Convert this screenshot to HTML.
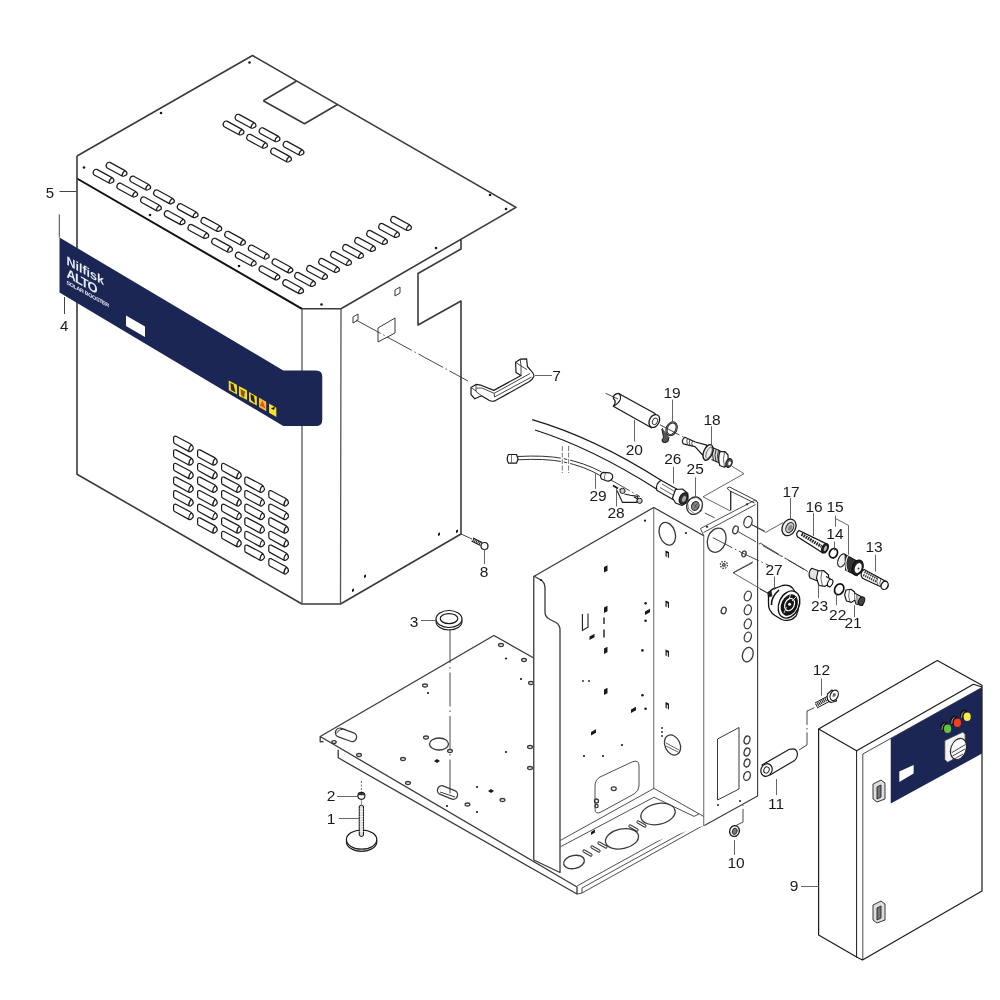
<!DOCTYPE html>
<html><head><meta charset="utf-8">
<style>
html,body{margin:0;padding:0;background:#fff;width:1000px;height:1000px;overflow:hidden}
svg{display:block;will-change:transform}
text{font-family:"Liberation Sans",sans-serif}
</style></head><body>
<svg width="1000" height="1000" viewBox="0 0 1000 1000">
<defs>
<g id="vt"><path d="M-0.5,1.2 Q0.5,-1.3 3,-0.6 L18,7.6 Q20.8,9.5 19.6,11.8 L17.2,13 Q16,13.5 15,13 L0.3,5 Q-1.6,3.6 -0.5,1.2 Z M15,13 Q14.9,9.8 18,7.8" fill="#fff" stroke="#1a1a1a" stroke-width="1.2"/></g>
<g id="vf"><path d="M0,2 Q0,-0.3 2.4,0.3 L17,8 Q20,10 19.6,13 L17.8,15 Q16.5,16 15.2,15.4 L1,7.6 Q0,7 0,5.6 Z M15.2,15.4 Q14.8,11.6 17.8,8.6" fill="#fff" stroke="#1a1a1a" stroke-width="1.2"/></g>
</defs>
<rect width="1000" height="1000" fill="#fff"/>

<!-- ================= COVER (5) ================= -->
<g id="cover" fill="none" stroke="#3a3a3a" stroke-width="1.6" stroke-linejoin="round">
  <path d="M77,156 L252.5,55.5 L516,207.4 L341,308.8 L302,308.8"/>
  <path d="M302,308.8 L77,178.5" stroke="#111" stroke-width="2"/>
  <path d="M77,156 L77,474.2 L302,604 L340.5,604 L461,534 L461,301 L418,325 L418,273.5 L461,249 L461,239.3"/>
  <path d="M302,308.8 L302,604 M341,308.8 L340.5,604" stroke="#555" stroke-width="1.3"/>
  <path d="M263.25,100.75 L296.25,81.25 M337.5,104.5 L304.5,123.7 L263.25,100.75"/>
  <path d="M353,317 l5,-3 l0,6 l-5,3 z M395,290 l5,-3 l0,6 l-5,3 z M378,328 L395,318 L395,333 L378,342 Z" stroke-width="1"/>
</g>
<g fill="#1a1a1a">
  <circle cx="249.5" cy="62.5" r="1.3"/><circle cx="161" cy="113" r="1.3"/><circle cx="84" cy="167.5" r="1.3"/>
  <circle cx="150" cy="215" r="1.3"/><circle cx="239" cy="266" r="1.3"/><circle cx="321.5" cy="304.5" r="1.3"/>
  <circle cx="436" cy="248" r="1.3"/><circle cx="490" cy="195" r="1.3"/><circle cx="506" cy="209" r="1.3"/>
  <path d="M352,589.5 l2,-1.2 l0,2.8 l-2,1.2 z M364,575.5 l2,-1.2 l0,2.8 l-2,1.2 z M438,533.5 l2,-1.2 l0,2.8 l-2,1.2 z M456,530.5 l2,-1.2 l0,2.8 l-2,1.2 z"/>
</g>
<!-- top vents -->
<g>
  <use href="#vt" x="107" y="163"/><use href="#vt" x="130.7" y="176.8"/><use href="#vt" x="154.4" y="190.6"/><use href="#vt" x="178.1" y="204.4"/>
  <use href="#vt" x="201.8" y="218.2"/><use href="#vt" x="225.5" y="232"/><use href="#vt" x="249.2" y="245.8"/><use href="#vt" x="272.9" y="259.6"/>
  <use href="#vt" x="94" y="170"/><use href="#vt" x="117.7" y="183.8"/><use href="#vt" x="141.4" y="197.6"/><use href="#vt" x="165.1" y="211.4"/>
  <use href="#vt" x="188.8" y="225.2"/><use href="#vt" x="212.5" y="239"/><use href="#vt" x="236.2" y="252.8"/><use href="#vt" x="259.9" y="266.6"/>
  <use href="#vt" x="283.6" y="280.4"/>
  <use href="#vt" x="295.5" y="273.2"/><use href="#vt" x="307.5" y="266.2"/><use href="#vt" x="319.5" y="259.2"/><use href="#vt" x="331.5" y="252.2"/>
  <use href="#vt" x="343.5" y="245.2"/><use href="#vt" x="355.5" y="238.2"/><use href="#vt" x="367.5" y="231.2"/><use href="#vt" x="379.5" y="224.2"/>
  <use href="#vt" x="391.5" y="217.2"/>
  <use href="#vt" x="236" y="115"/><use href="#vt" x="260" y="128.5"/><use href="#vt" x="284" y="142"/>
  <use href="#vt" x="224" y="121.75"/><use href="#vt" x="247.5" y="135"/><use href="#vt" x="271.5" y="148.75"/>
</g>
<!-- front vents -->
<g>
  <use href="#vf" x="173.6" y="436"/><use href="#vf" x="173.6" y="449.6"/><use href="#vf" x="173.6" y="463.2"/><use href="#vf" x="173.6" y="476.8"/><use href="#vf" x="173.6" y="490.4"/><use href="#vf" x="173.6" y="504"/>
  <use href="#vf" x="197.6" y="449.6"/><use href="#vf" x="197.6" y="463.2"/><use href="#vf" x="197.6" y="476.8"/><use href="#vf" x="197.6" y="490.4"/><use href="#vf" x="197.6" y="504"/><use href="#vf" x="197.6" y="517.6"/>
  <use href="#vf" x="221.6" y="463.2"/><use href="#vf" x="221.6" y="476.8"/><use href="#vf" x="221.6" y="490.4"/><use href="#vf" x="221.6" y="504"/><use href="#vf" x="221.6" y="517.6"/><use href="#vf" x="221.6" y="531.2"/>
  <use href="#vf" x="244.8" y="476.8"/><use href="#vf" x="244.8" y="490.4"/><use href="#vf" x="244.8" y="504"/><use href="#vf" x="244.8" y="517.6"/><use href="#vf" x="244.8" y="531.2"/><use href="#vf" x="244.8" y="544.8"/>
  <use href="#vf" x="268.8" y="490.4"/><use href="#vf" x="268.8" y="504"/><use href="#vf" x="268.8" y="517.6"/><use href="#vf" x="268.8" y="531.2"/><use href="#vf" x="268.8" y="544.8"/><use href="#vf" x="268.8" y="558.4"/>
</g>
<!-- navy band (4) -->
<path d="M59.5,237.5 L283.25,370.5 L316,370.5 Q322.25,370.5 322.25,376.5 L322.25,420 Q322.25,426 316,426 L283.25,426 L59.5,292.5 Z" fill="#1b2655"/>
<path d="M126,315.5 L145,326.5 L145,337 L126,326 Z" fill="#fff"/>
<g transform="translate(66.5,264.5) skewY(29)" fill="#e8ecf4" font-weight="bold">
  <text x="0" y="0" font-size="12.5">Nilfisk</text>
  <text x="0" y="12.5" font-size="13" letter-spacing="-1">ALTO</text>
  <text x="0" y="19.5" font-size="5.4" letter-spacing="-0.35">SOLAR BOOSTER</text>
</g>
<g>
  <path d="M228.7,380.5 L236.9,384.7 L237.1,394.5 L228.8,390.3 Z" fill="#f3df1e"/>
  <path d="M230.5,383 L233.5,384.5 L235.5,392.5 L231,390 Z" fill="#3a2a10"/>
  <path d="M238.9,386.1 L246.9,390.3 L247.1,400.1 L239,395.9 Z" fill="#f3df1e"/>
  <path d="M240.5,389 L245,391.5 L244,398 L241,395 Z" fill="#8a5a18"/>
  <path d="M249,392 L256.8,396.5 L256.9,405.5 L249.1,401.5 Z" fill="#f3df1e"/>
  <path d="M250.5,394 L254,396 L255,403.5 L251,400 Z" fill="#2a2010"/>
  <path d="M258.9,397.6 L266.2,401.8 L266.3,411.2 L259,407 Z" fill="#f6c420"/>
  <path d="M262.6,400.5 L265.5,408.5 L259.8,405.5 Z" fill="#e8501a"/>
  <path d="M269,403.6 L276.3,407.8 L276.4,417 L269.1,412.8 Z" fill="#f3e41e"/>
  <path d="M271,408.5 L275,406.5 L274,410 Z" fill="#111"/>
</g>
<!-- labels 4,5 -->
<g stroke="#444" stroke-width="1" fill="none">
  <path d="M59.5,191.5 L77,191.5"/>
  <path d="M59.3,214.5 L59.3,237.5 M64.5,297 L64.5,314"/>
</g>
<g font-size="15" fill="#1a1a1a">
  <text x="45.8" y="198">5</text>
  <text x="60" y="331">4</text>
</g>

<!-- ================= FRAME ================= -->
<g id="frame" fill="none" stroke="#3a3a3a" stroke-width="1.3" stroke-linejoin="round">
  <!-- base plate -->
  <path d="M533.75,658 L493.9,635.5 L320.2,736.5 L320.2,741.8 L323.5,741.5 M338.2,749.8 L338.2,757.8 L577,894 L577,887 L320.2,736.5"/>
  <path d="M577,886 L700,818 M582,888 L702,822 M582,893 L704,825 M577,894 L582,893 M582,888 L582,893" stroke-width="0.9"/>
  <!-- base holes -->
  <rect x="335" y="730.3" width="22" height="9" rx="4.5" transform="rotate(20 346 734.8)"/>
  <path d="M336.5,733.5 Q339,728 346,729.5" stroke-width="1"/>
  <ellipse cx="439" cy="744" rx="9.5" ry="6"/>
  <rect x="437" y="788" width="21" height="9" rx="4.5" transform="rotate(22 447.5 792.5)"/>
  <path d="M440,792 L455,797" stroke-width="1"/>
  <ellipse cx="425" cy="685.5" rx="2.4" ry="1.5"/><ellipse cx="501" cy="645" rx="2.4" ry="1.5"/><ellipse cx="524" cy="660" rx="2.4" ry="1.5"/>
  <ellipse cx="426" cy="737.5" rx="2.4" ry="1.5"/><ellipse cx="450" cy="751" rx="2.4" ry="1.5"/><ellipse cx="403" cy="759" rx="2.4" ry="1.5"/>
  <ellipse cx="359" cy="755" rx="2.4" ry="1.5"/><ellipse cx="334" cy="742" rx="2.2" ry="1.4"/><ellipse cx="408" cy="783" rx="2.4" ry="1.5"/>
  <ellipse cx="467.5" cy="804.5" rx="2.4" ry="1.5"/><ellipse cx="502.5" cy="800" rx="2.4" ry="1.5"/>
  <ellipse cx="530" cy="747" rx="2.4" ry="1.5"/><ellipse cx="530" cy="768" rx="2.4" ry="1.5"/>
  
  <ellipse cx="580" cy="842" rx="2.4" ry="1.5"/>
    <ellipse cx="531" cy="683" rx="2.4" ry="1.5"/>
  <!-- left tall panel -->
  <path d="M533.75,860 L533.75,576 L653.75,507.5 L703.75,535.7 L757.6,501.9 L757.6,796 L704.4,825.5 L560,872.5 Z" fill="#fff" stroke="none"/>
  <path d="M533.75,860 L533.75,576.5 L653.75,507.5 L703.75,535.7"/>
  <path d="M533.75,576 L540,579.5 Q545,582 545,588 L545,612 Q545,617 550,619.5 L556,622.5 Q560,625 560,630 L560,872.5 L533.75,860"/>
  <path d="M653.75,507.5 L653.75,788.5" stroke="#555" stroke-width="0.9"/>
  <path d="M703.75,535.7 L703.75,826" stroke="#555" stroke-width="0.9"/>
  <path d="M757.6,501.9 L757.6,796 L704.4,825.5" stroke-width="1.1"/>
  <!-- top flange -->
  <path d="M700.5,528.5 L754.4,500.5 L757.6,501.9 M703.7,532.4 L755.7,504.5 M700.5,528.5 L703.75,535.7" stroke-width="0.9"/>
  <path d="M727,488.2 L729.5,487 L757,501 M729.7,490.8 L754.5,503 M727,488.2 L729.7,490.8" stroke-width="1"/>
  <path d="M730.7,491 L730.7,510.5" stroke="#222" stroke-width="1.3"/>
  <circle cx="707" cy="526.8" r="1.1" fill="#222" stroke="none"/><circle cx="747" cy="504.3" r="1.1" fill="#222" stroke="none"/>
  <!-- tray -->
  <path d="M560.4,840.4 L654,788.4 L703.6,816.4" stroke-width="0.9"/>
  <path d="M560.4,846.8 L654,797.2 L694,816.4 L699,814" stroke-width="0.9"/>
  <!-- access panel -->
  <path d="M595,786 Q595,780 600,777 L632,762 Q639,759 639,766 L639,786 Q639,791 634,794 L601,812 Q595,815 595,809 Z" stroke-width="0.9"/>
  <ellipse cx="613.75" cy="788.75" rx="2.5" ry="1.8"/>
  <circle cx="596.5" cy="801" r="2"/><circle cx="596.5" cy="806" r="1.6"/>
  <!-- holes tray -->
  <ellipse cx="622" cy="838.8" rx="16.8" ry="9.8" transform="rotate(-12 622 838.8)"/>
  <ellipse cx="658" cy="814" rx="17.4" ry="10.4" transform="rotate(-12 658 814)"/>
  <ellipse cx="574" cy="862" rx="10.5" ry="6.5" transform="rotate(-12 574 862)"/>
  <path d="M584,851 l7,4 M592,847 l7,4 M599,843 l7,4 M630,826 l7,4 M638,822 l7,4" stroke-width="3.2" stroke-linecap="round"/>
  <path d="M584,851 l7,4 M592,847 l7,4 M599,843 l7,4 M630,826 l7,4 M638,822 l7,4" stroke="#fff" stroke-width="1.4" stroke-linecap="round"/>
  <!-- panel holes -->
  <ellipse cx="667.3" cy="533.7" rx="7.8" ry="11.7" transform="rotate(-18 667.3 533.7)"/>
  <ellipse cx="716.7" cy="540.2" rx="9.1" ry="12.4" transform="rotate(18 716.7 540.2)"/>
  <ellipse cx="735.5" cy="529.8" rx="2.6" ry="4" transform="rotate(18 735.5 529.8)"/>
  <ellipse cx="748" cy="522" rx="4" ry="5.6" transform="rotate(18 748 522)"/>
  <ellipse cx="744" cy="553.9" rx="2" ry="3" transform="rotate(18 744 553.9)"/>
  <ellipse cx="747.8" cy="596" rx="3.4" ry="5" transform="rotate(18 747.8 596)"/>
  <ellipse cx="747.8" cy="609.8" rx="3.4" ry="5" transform="rotate(18 747.8 609.8)"/>
  <ellipse cx="747.8" cy="623.8" rx="3.4" ry="5" transform="rotate(18 747.8 623.8)"/>
  <ellipse cx="747.8" cy="637" rx="3.4" ry="5" transform="rotate(18 747.8 637)"/>
  <ellipse cx="747.8" cy="654.6" rx="5.2" ry="7.4" transform="rotate(18 747.8 654.6)"/>
  <ellipse cx="723.7" cy="610.5" rx="2.4" ry="3.4" transform="rotate(18 723.7 610.5)"/>
  <ellipse cx="672.5" cy="745" rx="7.5" ry="10.5" transform="rotate(-25 672.5 745)"/>
  <path d="M666,743 L679,750 M666,746 L678,752" stroke-width="0.8"/>
  <path d="M717.5,739 L739,727.5 L739,789 L717.5,800 Z" stroke-width="1"/>
  <ellipse cx="747" cy="740" rx="2.8" ry="4" transform="rotate(18 747 740)"/>
  <ellipse cx="747" cy="752" rx="2.8" ry="4" transform="rotate(18 747 752)"/>
  <ellipse cx="747" cy="763" rx="2.8" ry="4" transform="rotate(18 747 763)"/>
  <ellipse cx="747" cy="776" rx="3.2" ry="4.5" transform="rotate(18 747 776)"/>
  <circle cx="723.9" cy="564.9" r="3.5" stroke-dasharray="1.5 1.2"/>
  <circle cx="723.9" cy="564.9" r="1.3"/>
</g>
<g fill="#1a1a1a">
  <circle cx="428" cy="693" r="1.1"/><circle cx="506" cy="658.5" r="1.1"/><circle cx="521" cy="679" r="1.1"/>
  <circle cx="506" cy="752" r="1.1"/><circle cx="477" cy="787" r="1.1"/><circle cx="477" cy="812" r="1.1"/><circle cx="447" cy="806" r="1.1"/>
  <circle cx="541" cy="580" r="1.1"/>
  <path d="M434,761 l3,-2 l3,2 l-3,2 z M488,791 l3,-2 l3,2 l-3,2 z"/>
  <!-- panel marks -->
  <path d="M604,567 l3.5,-1.8 l0,5.5 l-3.5,1.8 z M604,607.5 l3.5,-1.8 l0,5.5 l-3.5,1.8 z M604,648.5 l3.5,-1.8 l0,5.5 l-3.5,1.8 z M604,689.5 l3.5,-1.8 l0,5.5 l-3.5,1.8 z"/>
  <path d="M665.5,550.5 l3.5,1.5 l0,6 l-1.2,-0.5 l0,-4 l-1.1,-0.5 l0,4 l-1.2,-0.5 z M665.5,600.5 l3.5,1.5 l0,6 l-1.2,-0.5 l0,-4 l-1.1,-0.5 l0,4 l-1.2,-0.5 z M665.5,649.5 l3.5,1.5 l0,6 l-1.2,-0.5 l0,-4 l-1.1,-0.5 l0,4 l-1.2,-0.5 z M665.5,702 l3.5,1.5 l0,6 l-1.2,-0.5 l0,-4 l-1.1,-0.5 l0,4 l-1.2,-0.5 z"/>
  <path d="M589.5,636.5 l5,-2.8 l0,3.5 l-5,2.8 z M591,732 l5,-2.8 l0,3.5 l-5,2.8 z M631,709.5 l5,-2.8 l0,3.5 l-5,2.8 z M645,611.5 l5,-2.8 l0,3.5 l-5,2.8 z M591,832 l4,-2.5 l0,3 l-4,2.5 z"/>
  <circle cx="645.6" cy="603.2" r="1.3"/><circle cx="645.6" cy="620.8" r="1.3"/><circle cx="642.4" cy="650.4" r="1.3"/>
  <circle cx="642.4" cy="695.2" r="1.3"/><circle cx="645.6" cy="708.8" r="1.3"/><circle cx="583" cy="681" r="0.9"/><circle cx="589" cy="681" r="0.9"/>
  <circle cx="622" cy="745" r="1.1"/><circle cx="603" cy="756" r="1.1"/><circle cx="584" cy="756" r="1.1"/>
  <circle cx="662" cy="728" r="0.9"/><circle cx="662" cy="732" r="0.9"/><circle cx="662" cy="736" r="0.9"/>
  <circle cx="645" cy="520.7" r="1.1"/><circle cx="686" cy="533" r="1.1"/>
  <circle cx="718" cy="805" r="1"/><circle cx="740" cy="801" r="1"/>
</g>
<g fill="none" stroke="#1a1a1a" stroke-width="0.9">
  <path d="M582.4,614 L582.4,630.4 L588,627.2 L588,613.6" stroke-width="1.1"/>
  <path d="M604,617.6 L604,624 M604,629.6 L604,637.6" stroke-width="1.4"/>
</g>

<!-- ================= SMALL PARTS ================= -->
<g fill="none" stroke="#1a1a1a" stroke-width="1" stroke-linejoin="round">
  <!-- handle 7 -->
  <path d="M471,387.6 L476,384.4 L481,385.2 L493.8,390.4 L521,375.5 L516,372.5 L515.6,362.2 L520.2,359.2 L526.6,358.8 L527.4,366.5 L531,370.6 Q534.8,374.5 533.6,377 Q532.5,379.5 529.5,381.5 L495.5,400.6 Q492,402 489,400.3 L481.5,395.8 L474.8,398.8 L471,394.5 Z" fill="#fff" stroke="#1a1a1a" stroke-width="1.2"/>
  <path d="M476.5,388.2 L481.8,388 L494.2,393.3 L530,373.5 M494.2,393.3 L494.5,397 L531.5,377" stroke="#333" stroke-width="0.9"/>
  <path d="M476,384.6 L476,391.5 L481.5,395.8 M471,387.6 L476.5,391.2" stroke="#333" stroke-width="0.9"/>
  <path d="M520.2,359.2 L521,366 L527,369.6 M515.6,362.2 L521,366 M521,366 L521,375.5" stroke="#333" stroke-width="0.9"/>
  <!-- tube 20 -->
  <path d="M618.2,393.3 L655,413.5 L651.5,427.8 L613.3,406.2 Q617,402 613.5,398.5 Q612.5,394.5 618.2,393.3 Z" fill="#fff" stroke="#1a1a1a" stroke-width="1.3"/>
  <path d="M618.2,393.3 Q621.5,395 620.2,399.5 Q618.8,403.5 613.3,406.2" stroke="#1a1a1a" stroke-width="1.1"/>
  <ellipse cx="654.3" cy="421" rx="4.9" ry="6.8" transform="rotate(28 654.3 421)" fill="#fff" stroke="#1a1a1a" stroke-width="1.3"/>
  <ellipse cx="655" cy="421.3" rx="2.4" ry="3.4" transform="rotate(28 655 421.3)" fill="#fff" stroke="#333" stroke-width="0.9"/>
  <!-- clamp 19 -->
  <path d="M663,429 Q661,427.5 662.5,432 L663.5,437.5 Q661,440 662.5,442 Q665,443.5 668,441.5 L669,437" fill="#555" stroke="#1a1a1a" stroke-width="1"/>
  <ellipse cx="671.6" cy="428.8" rx="4.8" ry="6.6" transform="rotate(25 671.6 428.8)" fill="none" stroke="#1a1a1a" stroke-width="2.2"/>
  <ellipse cx="671.6" cy="428.8" rx="4.8" ry="6.6" transform="rotate(25 671.6 428.8)" fill="none" stroke="#888" stroke-width="0.7"/>
  <!-- fitting 18 -->
  <path d="M684.8,437.2 L695.4,442 L706.8,445.2 L709,457 L702.6,455 L695,446.6 L683.2,443.8 Q681,440 684.8,437.2 Z" fill="#fff" stroke="#1a1a1a" stroke-width="1.2"/>
  <path d="M687.5,438.3 Q686,441 687.5,444.3 M690,439.5 Q688.5,442.2 690,445.3 M692.5,440.6 Q691,443.3 692.5,446" stroke="#333" stroke-width="0.9"/>
  <path d="M711,447 L720,450.8 L719.6,463 L711.5,459.5" fill="#ddd" stroke="#1a1a1a" stroke-width="1.1"/>
  <path d="M713.5,448.5 Q711.5,454 713.5,460.5 M716,449.5 Q714,455 716,461.5 M718.5,450.3 Q716.5,456 718.5,462.5" stroke="#222" stroke-width="0.9"/>
  <ellipse cx="708" cy="452.4" rx="4.3" ry="8.2" transform="rotate(22 708 452.4)" fill="#eee" stroke="#1a1a1a" stroke-width="1.4"/>
  <ellipse cx="709" cy="452.8" rx="2.4" ry="6" transform="rotate(22 709 452.8)" fill="none" stroke="#555" stroke-width="0.8"/>
  <path d="M720,451.5 L725,451.6 L728,455 L728.3,464.5 L724.5,467.2 L719.8,465.5 Q717.5,458 720,451.5 Z" fill="#fff" stroke="#1a1a1a" stroke-width="1.2"/>
  <path d="M724.5,452 Q722.5,459 724.5,467" stroke="#333" stroke-width="0.8"/>
  <ellipse cx="729" cy="463" rx="3" ry="4.5" transform="rotate(22 729 463)" fill="#555" stroke="#1a1a1a" stroke-width="1.1"/>
  <ellipse cx="729.6" cy="463.3" rx="1.3" ry="2" transform="rotate(22 729.6 463.3)" fill="#fff" stroke="none"/>
  <!-- long hose -->
  <path d="M532.2,419.6 Q595,438 661,480.3 M535,430 Q592,448 656.5,489" stroke="#1a1a1a" stroke-width="1.3"/>
  <!-- ferrule 26 -->
  <path d="M661,480.2 L677.1,489.2 L672.9,499.4 L656.8,490.3 Q655,484 661,480.2 Z" fill="#fff" stroke="#1a1a1a" stroke-width="1.2"/>
  <path d="M662,484 L675.5,492 M660,487.5 L674,495.5" stroke="#444" stroke-width="0.8"/>
  <path d="M675.5,489.5 L682.5,489 L687.8,493.5 L688,502 L682,505.5 L675.5,503 L672.5,498 Z" fill="#fff" stroke="#1a1a1a" stroke-width="1.2"/>
  <ellipse cx="683.5" cy="498.5" rx="3.8" ry="6" transform="rotate(25 683.5 498.5)" fill="#333" stroke="#1a1a1a" stroke-width="1.3"/>
  <ellipse cx="684" cy="499" rx="1.8" ry="3" transform="rotate(25 684 499)" fill="#aaa" stroke="none"/>
  <!-- nut 25 -->
  <ellipse cx="694.6" cy="505.7" rx="7.6" ry="9" transform="rotate(25 694.6 505.7)" fill="#fff" stroke="#1a1a1a" stroke-width="1.2"/>
  <path d="M690,498.5 L697,497.5 L702.5,502.5 L701.5,511 L695,514 L688.5,509 L687.5,502.5" fill="none" stroke="#555" stroke-width="0.8"/>
  <ellipse cx="695.3" cy="506" rx="3.6" ry="4.6" transform="rotate(25 695.3 506)" fill="#888" stroke="#222" stroke-width="1"/>
  <path d="M693.5,504 L697.5,508 M694,508.5 L697,503.5" stroke="#333" stroke-width="0.6"/>
  <!-- cable 29 -->
  <path d="M517.5,456.5 Q545,455 563,458.5 Q585,463 601.5,472 M517.5,459.8 Q545,458.3 563,461.8 Q585,466.5 600,475.5" stroke="#1a1a1a" stroke-width="0.9"/>
  <path d="M508.5,454.5 L516.5,454.5 L518,459 L516.5,463.2 L508.5,463.2 Q506,459 508.5,454.5 Z" fill="#fff" stroke="#1a1a1a" stroke-width="1.2"/>
  <path d="M511.5,455 L511.5,463" stroke="#555" stroke-width="0.8"/>
  <path d="M603,472.3 L609.5,472.8 Q613.5,474 612.5,478 Q611,481.5 607,481 L601.5,479 Q599,475 603,472.3 Z" fill="#fff" stroke="#1a1a1a" stroke-width="1.2"/>
  <path d="M605.5,473 Q603.5,477 605,480.5" stroke="#555" stroke-width="0.8"/>
  <path d="M562.3,444 L562.3,475 M568.6,444 L568.6,475" stroke="#fff" stroke-width="3"/>
  <path d="M562.3,446 L562.3,473 M568.6,446 L568.6,473" stroke="#555" stroke-width="0.8" stroke-dasharray="5 1.5"/>
  <!-- bracket 28 -->
  <path d="M613,485.5 L618,488.5" stroke="#1a1a1a" stroke-width="2"/>
  <path d="M617,490.5 L622.5,502.4 L636.8,502.4 L637.9,496.4 L630.2,495.3 L624.5,494" stroke="#1a1a1a" stroke-width="1.1"/>
  <path d="M619.5,489 L625,491.5 M634,497 L640,500" stroke="#1a1a1a" stroke-width="1.1"/>
  <circle cx="622.5" cy="490.9" r="2.6" fill="#ccc" stroke="#1a1a1a" stroke-width="1"/>
  <circle cx="639.6" cy="500.8" r="2.6" fill="#ccc" stroke="#1a1a1a" stroke-width="1"/>
  <!-- washer 17 -->
  <ellipse cx="789" cy="527.4" rx="6.6" ry="8.7" transform="rotate(28 789 527.4)" fill="#eee" stroke="#1a1a1a" stroke-width="1.3"/>
  <ellipse cx="789.8" cy="527.6" rx="3.6" ry="5.4" transform="rotate(28 789.8 527.6)" fill="#c8c8c8" stroke="#222" stroke-width="1"/>
  <ellipse cx="790.2" cy="527.8" rx="1.8" ry="3" transform="rotate(28 790.2 527.8)" fill="#888" stroke="none"/>
  <!-- filter 16 -->
  <path d="M799,530.5 L826,543.6 L822.5,552.8 L797.8,537 Q795,533.5 799,530.5 Z" fill="#fff" stroke="#111" stroke-width="1.3"/>
  <path d="M801.5,534.2 L821.5,546.5" stroke="#222" stroke-width="3.2" stroke-dasharray="1.6 0.9"/>
  <ellipse cx="825" cy="548.3" rx="3" ry="5" transform="rotate(25 825 548.3)" fill="#222" stroke="#111" stroke-width="1.2"/>
  <ellipse cx="825.4" cy="548.5" rx="1.4" ry="2.8" transform="rotate(25 825.4 548.5)" fill="#bbb" stroke="none"/>
  <!-- washer 14 -->
  <ellipse cx="833.4" cy="553.2" rx="3.9" ry="4.8" transform="rotate(25 833.4 553.2)" fill="#fff" stroke="#111" stroke-width="1.8"/>
  <!-- coupling 15 -->
  <ellipse cx="842" cy="560.4" rx="3.9" ry="6.9" transform="rotate(22 842 560.4)" fill="#f2f2f2" stroke="#222" stroke-width="1.1"/>
  <path d="M844.5,554.2 L861,563.2 L857,575.8 L845,569.8" fill="#333" stroke="#111" stroke-width="1.1"/>
  <path d="M848,556 Q844,562 847.5,571.5" stroke="#eee" stroke-width="1.1"/>
  <ellipse cx="857.6" cy="567.6" rx="5.2" ry="7.8" transform="rotate(22 857.6 567.6)" fill="#222" stroke="#111" stroke-width="1.2"/>
  <ellipse cx="858.2" cy="568" rx="3.2" ry="5.2" transform="rotate(22 858.2 568)" fill="#fff" stroke="none"/>
  <circle cx="858.5" cy="568.5" r="1" fill="#333" stroke="none"/>
  <!-- nipple 13 -->
  <path d="M864,569.5 L878,577 L886.5,581.8 Q890,586 886,589 L878,585.5 L862.5,578.2 Q859,573 864,569.5 Z" fill="#fff" stroke="#111" stroke-width="1.2"/>
  <path d="M864.5,572 L877,578.5 M863.2,575 L876.5,581.8" stroke="#333" stroke-width="2.2" stroke-dasharray="1.3 0.9"/>
  <ellipse cx="884.6" cy="585.3" rx="3.3" ry="4.3" transform="rotate(25 884.6 585.3)" fill="#fff" stroke="#111" stroke-width="1.2"/>
  <path d="M878,577.2 Q875.5,581.5 878,585.5 M881,579 Q878.5,583 881,587" stroke="#333" stroke-width="0.8"/>
  <!-- fitting 23 -->
  <path d="M811.7,568.2 L819.4,571 L817.7,580.9 L810,578.1 Q807.5,573 811.7,568.2 Z" fill="#e2e2e2" stroke="#111" stroke-width="1.1"/>
  <path d="M818,571 L823.5,570.5 L828.5,575 L829.3,583 L825,586.4 L819,585.5 L816.5,578 Z" fill="#fff" stroke="#111" stroke-width="1.1"/>
  <path d="M822,571 Q819.5,578 822.5,586" stroke="#444" stroke-width="0.8"/>
  <path d="M826,576.5 L830.5,579 L832.5,583 L830,587 L826,585" fill="#fff" stroke="#111" stroke-width="1.1"/>
  <ellipse cx="830.2" cy="583" rx="2.4" ry="3.8" transform="rotate(22 830.2 583)" fill="#fff" stroke="#111" stroke-width="1.1"/>
  <!-- washer 22 -->
  <ellipse cx="839.2" cy="589.2" rx="4.4" ry="5.6" transform="rotate(28 839.2 589.2)" fill="#fff" stroke="#111" stroke-width="1.7"/>
  <!-- fitting 21 -->
  <path d="M846,590 L851,589.2 L854.6,592 L855,600 L851.5,602.4 L846.5,601 L844.6,595 Z" fill="#fff" stroke="#111" stroke-width="1.1"/>
  <path d="M849.5,589.8 Q847.5,596 850,602" stroke="#444" stroke-width="0.8"/>
  <path d="M854.5,593 L861,596.5 L863.5,600 L862.5,605.5 L856,604 L854.8,600" fill="#f4f4f4" stroke="#111" stroke-width="1.1"/>
  <path d="M856.5,594.5 L856,603 M858,595.3 L857.5,603.8" stroke="#555" stroke-width="0.7"/>
  <ellipse cx="861.5" cy="601" rx="2.9" ry="4.4" transform="rotate(22 861.5 601)" fill="#444" stroke="#111" stroke-width="1"/>
  <!-- pump part 27 -->
  <path d="M768.5,595 Q770,589 776,588 L782.5,585.5 Q789,584 792.5,588 L797,595 Q801,606 796,616 Q790,622.5 781.5,619.5 L775,615.5 Q768,611 768.5,603 Z" fill="#fff" stroke="#111" stroke-width="1.3"/>
  <path d="M779,590 Q771,597 771.5,605" stroke="#111" stroke-width="1.6"/>
  <ellipse cx="789" cy="604.5" rx="10" ry="14.2" transform="rotate(25 789 604.5)" fill="#fff" stroke="#111" stroke-width="1.4"/>
  <ellipse cx="789.3" cy="605" rx="8" ry="11.2" transform="rotate(25 789.3 605)" fill="#151515" stroke="none"/>
  <ellipse cx="789.6" cy="604.6" rx="4.6" ry="6.4" transform="rotate(25 789.6 604.6)" fill="none" stroke="#fff" stroke-width="1.2"/>
  <circle cx="789.6" cy="604.2" r="1.5" fill="#fff" stroke="none"/>
  <path d="M786.5,607 L784,613 M792,601 L796,597 M789,599 L791,593" stroke="#ddd" stroke-width="0.9"/>
  <path d="M767.5,592.5 L771,590.5 L772,596 L768.5,597 Z" fill="#222" stroke="#111" stroke-width="0.7"/>
  <!-- grommet 3 -->
  <ellipse cx="449" cy="621.5" rx="13" ry="8.5" fill="#fff" stroke-width="1.1"/>
  <ellipse cx="449" cy="619" rx="13" ry="8.5" fill="#fff" stroke-width="1.2"/>
  <ellipse cx="449" cy="618.6" rx="8.8" ry="5" stroke-width="1.2"/>
  <!-- foot 1 / nut 2 -->
  <ellipse cx="361.6" cy="841.8" rx="15.2" ry="9.6" fill="#fff" stroke-width="1.2"/>
  <ellipse cx="361.6" cy="839.6" rx="15.2" ry="9.6" fill="#fff" stroke-width="1.2"/>
  <path d="M359.3,835 L359.3,806.5 Q361.4,803.5 363.5,806.5 L363.5,835 Q361.4,838 359.3,835 Z" fill="#ddd" stroke-width="1.1"/>
  <path d="M359.5,809 l4,0 M359.5,811.5 l4,0 M359.5,814 l4,0 M359.5,816.5 l4,0 M359.5,819 l4,0 M359.5,821.5 l4,0 M359.5,824 l4,0 M359.5,826.5 l4,0 M359.5,829 l4,0 M359.5,831.5 l4,0" stroke="#fff" stroke-width="0.7"/>
  <path d="M361.4,799.5 L361.4,804" stroke="#555" stroke-width="0.7"/>
  <circle cx="361.4" cy="795.8" r="3.5" fill="#fff" stroke-width="1.2"/>
  <path d="M358.2,795.3 A3.3,3.3 0 0 1 364.6,795.3 Z" fill="#333" stroke="none"/>
  <!-- screw 8 -->
  <path d="M473,538 L482,542.5 M471.5,541 L480.5,545.5" stroke-width="1.1"/>
  <path d="M473,539.5 l8,4" stroke-width="3" stroke-dasharray="1 0.8"/>
  <circle cx="484.5" cy="546" r="3.5" fill="#fff" stroke-width="1.2"/>
  <!-- nut 10 -->
  <ellipse cx="734.5" cy="831" rx="4.8" ry="5.5" fill="#fff" stroke-width="1.3" transform="rotate(20 734.5 831)"/>
  <ellipse cx="734.8" cy="831.2" rx="2.4" ry="3.2" fill="#777" stroke-width="0.8" transform="rotate(20 734.5 831)"/>
  <!-- spacer 11 -->
  <path d="M762,765 L789,749.5 Q797,747 797.5,754 Q797,760 792,762 L770,775 Z" fill="#fff" stroke-width="1.2"/>
  <ellipse cx="766.5" cy="770" rx="5.5" ry="6.5" transform="rotate(25 766.5 770)" fill="#fff" stroke-width="1.2"/>
  <ellipse cx="766.5" cy="770" rx="2.6" ry="3.2" transform="rotate(25 766.5 770)" stroke-width="1"/>
  <!-- bolt 12 -->
  <path d="M815,703 L828,696 M817,708 L830,701" stroke-width="1"/>
  <path d="M816,705.5 l11,-6.5" stroke-width="3.4" stroke-dasharray="1 0.8"/>
  <path d="M827.5,694 L832,689.8 L836.5,701 L831,702.5 Q826,701 827.5,694 Z" fill="#fff" stroke-width="1.1"/>
  <ellipse cx="834.2" cy="695.3" rx="3.8" ry="5.4" transform="rotate(25 834.2 695.3)" fill="#fff" stroke-width="1.2"/>
  <path d="M833,693.5 l2,-0.5 l1,2 l-1.5,1.8 l-2,0 z" fill="#666" stroke="none"/>
</g>

<!-- ================= CONTROL BOX (9) ================= -->
<g fill="none" stroke="#1a1a1a" stroke-width="1.2" stroke-linejoin="round">
  <path d="M818.6,728.9 L937.3,660.5 L982,685.2 L982,891 L862.5,960 L857.5,957.5 L818.6,935 Z" fill="#fff"/>
  <path d="M818.6,728.9 L856.6,750.7 L973.4,684.2 L982,687" />
  <path d="M856.6,750.7 L856.6,957.5" stroke-width="1"/>
  <path d="M862.8,754 L862.8,960 M862.8,754 L982,687.5" stroke-width="0.8"/>
</g>
<path d="M890.75,738.4 L982,687.5 L982,753.6 L890.75,803.5 Z" fill="#1b2655"/>
<path d="M899.3,771.6 L913.6,765 L913.6,773.5 L899.3,782 Z" fill="#fff"/>
<g>
  <ellipse cx="944.6" cy="726.8" rx="4.2" ry="4.8" fill="#111"/><path d="M942,730 Q941.5,725.5 944.5,723.5" stroke="#ccc" stroke-width="0.8" fill="none"/>
  <ellipse cx="947.6" cy="728.7" rx="3.6" ry="4.3" fill="#62c43a"/>
  <ellipse cx="954.4" cy="720.6" rx="4.2" ry="4.8" fill="#111"/><path d="M951.8,723.8 Q951.3,719.3 954.3,717.3" stroke="#ccc" stroke-width="0.8" fill="none"/>
  <ellipse cx="957.4" cy="722.7" rx="3.6" ry="4.3" fill="#f0401e"/>
  <ellipse cx="964.2" cy="714.6" rx="4.2" ry="4.8" fill="#111"/><path d="M961.6,717.8 Q961.1,713.3 964.1,711.3" stroke="#ccc" stroke-width="0.8" fill="none"/>
  <ellipse cx="967.2" cy="716.8" rx="3.6" ry="4.3" fill="#f6ea4a"/>
  <path d="M944.8,740.6 L963,731.9 L965.1,734.5 L965.1,753.2 L947.6,762.3 L944.8,759.5 Z" fill="#f2f2f2" stroke="#444" stroke-width="0.8"/>
  <ellipse cx="958.5" cy="749" rx="7.6" ry="11" transform="rotate(20 958.5 749)" fill="#fafafa" stroke="#222" stroke-width="1.1"/>
  <path d="M952,752.5 L965.5,744.5 M952.5,756 L965,749 M953.5,759.5 L963,754 M954,741.5 Q956,739 961,738.5" stroke="#333" stroke-width="0.9" fill="none"/>
</g>
<g fill="#ddd" stroke="#222" stroke-width="0.9">
  <path d="M873,784 L881,780 L885,783 L885,799 L877,802 L873,799 Z"/>
  <path d="M877,787 L881,785 L881,797 L877,799 Z" fill="#777"/>
  <path d="M873,905 L881,901 L885,904 L885,920 L877,923 L873,920 Z"/>
  <path d="M877,908 L881,906 L881,918 L877,920 Z" fill="#777"/>
</g>

<!-- ================= LEADERS / DASH LINES ================= -->
<g fill="none" stroke="#555" stroke-width="0.9">
  <!-- solid leaders -->
  <path d="M535,375.5 L552,375.5"/>
  <path d="M484.5,549 L484.5,564"/>
  <path d="M421,620.5 L435,620.5"/>
  <path d="M337,796.5 L358,796.5 M339,818.5 L359.5,818.5"/>
  <path d="M634.5,419.9 L634.5,441.6"/>
  <path d="M672.5,399.6 L672.5,422.7"/>
  <path d="M711.5,426.2 L711.5,445.8"/>
  <path d="M673.5,466.8 L673.5,483.6"/>
  <path d="M695.5,477.3 L695.5,496.9"/>
  <path d="M595.5,472.8 L595.5,488.9"/>
  <path d="M616.5,488 L616.5,506.4"/>
  <path d="M790.5,498 L790.5,519"/>
  <path d="M813.5,512.8 L813.5,535.9"/>
  <path d="M835.5,515.6 L835.5,526.8 M835.5,518.5 L848.5,525.4 L848.5,554.8"/>
  <path d="M834.5,541.5 L834.5,550.6"/>
  <path d="M875.5,554.8 L875.5,571.6"/>
  <path d="M774.5,576.5 L774.5,589.8"/>
  <path d="M818.5,585.6 L818.5,598.2"/>
  <path d="M836.5,593.3 L836.5,605.2"/>
  <path d="M854.5,605.2 L854.5,617.1"/>
  <path d="M734.5,840 L734.5,855"/>
  <path d="M776.5,779 L776.5,795"/>
  <path d="M821.5,678.5 L821.5,695.6"/>
  <path d="M801,886.5 L819,886.5"/>
  <!-- bracket lines -->
  <path d="M731.6,466 L744,473.7 L703,496.8 L730,510.8"/>
  <path d="M783.1,522.6 L765.6,532.4 L751,524.4"/>
  <path d="M753,561.7 L733,572.7 L768,593.3"/>
</g>
<g fill="none" stroke="#333" stroke-width="0.9" stroke-dasharray="22 3 1.5 3">
  <path d="M356,320 L468,381" stroke-dasharray="28 3 1.5 3"/>
  <path d="M461,534 L472,539"/>
  <path d="M450,629 L450,795" stroke-dasharray="34 4 1.5 4"/>
  <path d="M361.4,781 L361.4,792" stroke-dasharray="2 1.5" stroke-width="0.7"/>
  <path d="M605.6,393.3 L618,399"/>
  <path d="M660,424.8 L684,437.4"/>
  <path d="M610.6,479.8 L640,496.6"/>
  <path d="M704.8,513 L714.6,517.8"/>
  <path d="M712.8,537.6 L742.7,553.2 L770,566"/>
  <path d="M737,531 L809,572"/>
  <path d="M733,573 L754,562"/>
  <path d="M760,542.9 L807.6,571.6"/>
  <path d="M760,589.1 L768.4,593.3"/>
  <path d="M751.8,524.6 L764.8,531.1"/>
  <path d="M799,750 L807,745 L807,711 L816,707"/>
  <path d="M735,826 L743,822 L743,805"/>
</g>
<!-- labels -->
<g font-size="15.5" fill="#1a1a1a" text-anchor="middle" transform="translate(0,-0.7)">
  <text x="556.5" y="381.5">7</text>
  <text x="484" y="578">8</text>
  <text x="414" y="627.5">3</text>
  <text x="331" y="801.5">2</text>
  <text x="331" y="825">1</text>
  <text x="634.3" y="455.5">20</text>
  <text x="672.1" y="398.5">19</text>
  <text x="712" y="426">18</text>
  <text x="672.8" y="464.5">26</text>
  <text x="695.2" y="475">25</text>
  <text x="598" y="502">29</text>
  <text x="616" y="519">28</text>
  <text x="791" y="497.5">17</text>
  <text x="814" y="512.5">16</text>
  <text x="835" y="512.5">15</text>
  <text x="834.9" y="540">14</text>
  <text x="874.1" y="553">13</text>
  <text x="774" y="575.5">27</text>
  <text x="819.5" y="612">23</text>
  <text x="837.7" y="621">22</text>
  <text x="853.1" y="628.5">21</text>
  <text x="736" y="869">10</text>
  <text x="776" y="809.5">11</text>
  <text x="821.4" y="676">12</text>
  <text x="794" y="891.5">9</text>
</g>

</svg>
</body></html>
